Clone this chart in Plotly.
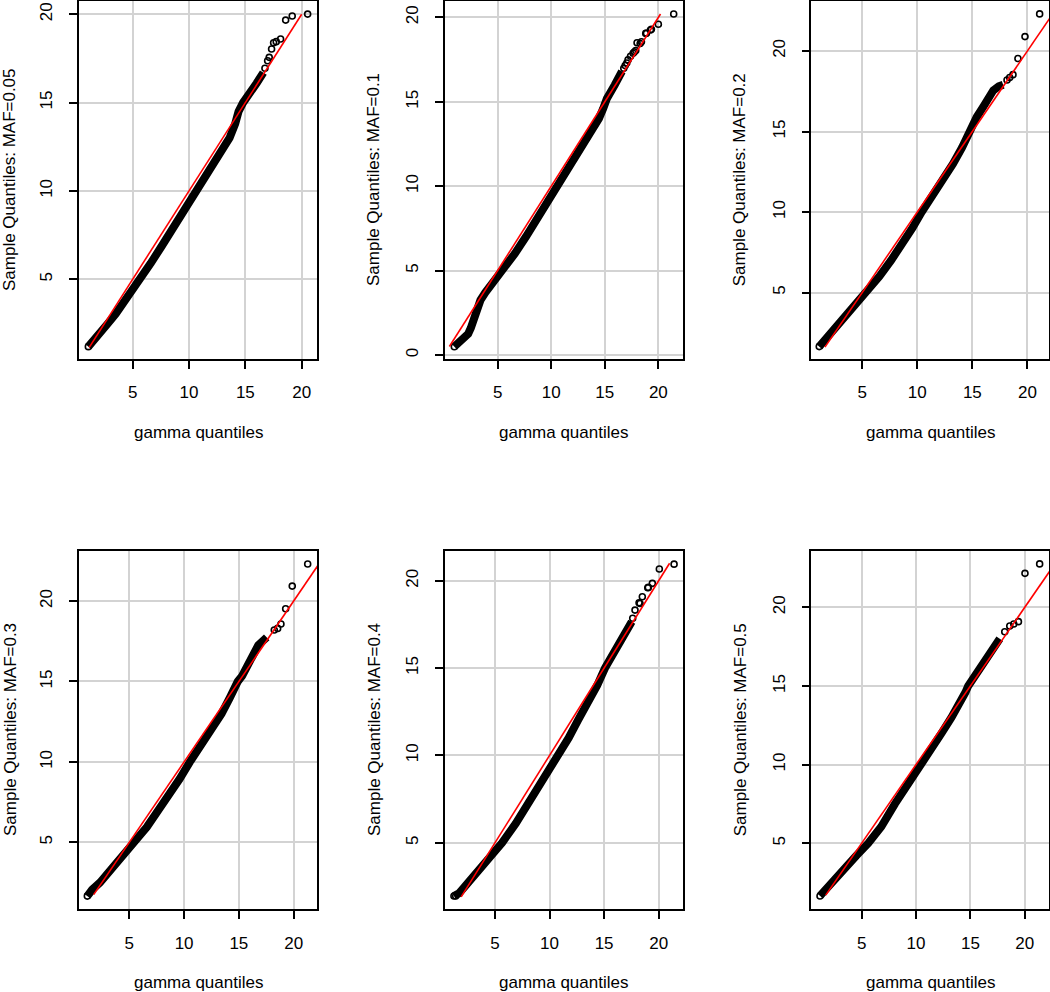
import plotly.graph_objects as go

# ---------------- data ----------------
titles = ["MAF=0.05", "MAF=0.1", "MAF=0.2", "MAF=0.3", "MAF=0.4", "MAF=0.5"]
tick_vals = [0, 5, 10, 15, 20]

# MAF = 0.05
band1_x = [1.07, 1.6, 2.1, 2.8, 3.5, 4.3, 5.0, 5.65, 6.6, 7.6, 8.6, 9.7, 10.8, 11.8, 12.8, 13.6, 14.1, 14.4, 14.8, 15.4, 16.0, 16.6]
band1_y = [1.19, 1.55, 1.95, 2.5, 3.05, 3.75, 4.4, 5.0, 5.9, 6.9, 7.9, 8.95, 10.0, 11.0, 12.05, 13.0, 13.8, 14.5, 15.0, 15.5, 16.1, 16.7]
pts1_x = [1.07, 16.74, 16.98, 17.12, 17.33, 17.51, 17.74, 18.13, 18.58, 19.16, 20.53]
pts1_y = [1.19, 16.94, 17.37, 17.56, 18.03, 18.39, 18.45, 18.6, 19.67, 19.9, 20.01]
ref1 = [1.15, 20.0]

# MAF = 0.1
band2_x = [0.96, 1.35, 1.8, 2.25, 2.5, 2.7, 2.98, 3.4, 3.85, 4.3, 5.45, 6.6, 7.64, 8.63, 9.63, 10.65, 11.68, 12.67, 13.6, 14.45, 14.85, 15.2, 15.93, 16.6]
band2_y = [0.49, 0.7, 0.95, 1.25, 1.6, 2.05, 2.65, 3.25, 3.7, 4.05, 5.0, 6.0, 7.0, 8.0, 9.0, 10.0, 11.0, 12.0, 13.0, 14.0, 14.6, 15.2, 16.0, 16.8]
pts2_x = [0.96, 16.77, 16.9, 17.05, 17.17, 17.4, 17.64, 17.75, 17.89, 18.01, 18.3, 18.42, 18.82, 18.89, 19.26, 19.35, 20.0, 21.43]
pts2_y = [0.49, 16.98, 17.15, 17.3, 17.48, 17.7, 17.87, 17.95, 18.03, 18.5, 18.45, 18.56, 19.05, 19.06, 19.25, 19.29, 19.59, 20.2]
ref2 = [0.5, 20.2]

# MAF = 0.2
band3_x = [1.1, 1.6, 2.2, 3.0, 3.6, 4.5, 5.5, 6.55, 7.62, 8.65, 9.55, 10.4, 11.4, 12.4, 13.25, 14.06, 14.45, 14.65, 14.95, 15.4, 16.0, 16.45, 16.9, 17.4, 17.8]
band3_y = [1.65, 2.05, 2.5, 3.05, 3.5, 4.25, 5.0, 6.0, 7.0, 8.0, 9.0, 10.0, 11.0, 12.0, 13.0, 14.0, 14.6, 15.0, 15.3, 15.9, 16.55, 17.15, 17.55, 17.8, 17.9]
pts3_x = [1.1, 18.15, 18.39, 18.69, 19.14, 19.78, 21.11]
pts3_y = [1.65, 18.2, 18.35, 18.53, 19.53, 20.89, 22.3]
ref3 = [1.62, 22.3]

# MAF = 0.3
band4_x = [1.17, 1.6, 2.33, 3.0, 3.54, 4.4, 5.52, 6.6, 7.6, 8.6, 9.6, 10.53, 11.5, 12.42, 13.42, 14.18, 14.5, 14.9, 15.3, 15.7, 16.3, 16.77, 17.54]
band4_y = [1.66, 2.05, 2.5, 3.05, 3.5, 4.2, 5.0, 5.95, 6.95, 7.9, 8.95, 10.0, 11.0, 12.0, 13.0, 14.0, 14.55, 15.0, 15.35, 15.9, 16.75, 17.26, 17.74]
pts4_x = [1.17, 18.23, 18.54, 18.84, 19.27, 19.87, 21.28]
pts4_y = [1.66, 18.2, 18.3, 18.57, 19.52, 20.93, 22.3]
ref4 = [1.75, 22.3]

# MAF = 0.4
band5_x = [1.24, 1.7, 2.25, 2.9, 3.63, 4.6, 5.65, 6.9, 8.3, 9.6, 10.8, 11.75, 12.6, 13.5, 14.36, 15.08, 16.06, 16.9, 17.53]
band5_y = [1.95, 2.1, 2.5, 2.95, 3.5, 4.25, 5.0, 6.1, 7.5, 8.75, 10.0, 11.0, 12.0, 13.0, 14.0, 15.0, 16.0, 16.85, 17.65]
pts5_x = [1.24, 1.4, 17.62, 17.83, 18.2, 18.29, 18.5, 19.0, 19.05, 19.42, 20.06, 21.41]
pts5_y = [1.95, 1.95, 17.85, 18.32, 18.74, 18.7, 19.08, 19.6, 19.62, 19.85, 20.67, 20.95]
ref5 = [1.9, 21.0]

# MAF = 0.5
band6_x = [1.17, 1.6, 2.25, 2.9, 3.62, 4.5, 5.61, 6.8, 8.06, 9.3, 10.55, 11.5, 12.35, 13.26, 14.18, 14.55, 14.8, 15.3, 15.71, 16.2, 16.72, 17.2, 17.7]
band6_y = [1.65, 2.0, 2.5, 3.0, 3.5, 4.2, 5.0, 6.05, 7.5, 8.75, 10.0, 11.0, 12.0, 13.0, 14.0, 14.6, 15.0, 15.5, 16.0, 16.5, 17.0, 17.5, 18.0]
pts6_x = [1.17, 18.16, 18.62, 18.99, 19.42, 20.02, 21.37]
pts6_y = [1.65, 18.45, 18.81, 18.94, 19.09, 22.16, 22.76]
ref6 = [1.7, 22.8]

# axis ranges per panel
x_ranges = [[0.24, 21.36], [0.09, 22.27], [0.38, 21.96], [0.41, 22.13], [0.42, 22.2], [0.37, 22.23]]
y_ranges = [[0.49, 20.75], [-0.24, 20.97], [0.88, 23.1], [0.84, 23.13], [1.19, 21.72], [0.8, 23.6]]

bands = [(band1_x, band1_y), (band2_x, band2_y), (band3_x, band3_y),
         (band4_x, band4_y), (band5_x, band5_y), (band6_x, band6_y)]
points = [(pts1_x, pts1_y), (pts2_x, pts2_y), (pts3_x, pts3_y),
          (pts4_x, pts4_y), (pts5_x, pts5_y), (pts6_x, pts6_y)]
refs = [ref1, ref2, ref3, ref4, ref5, ref6]

# ---------------- layout geometry (pixels of a 1050x992 page) ----------------
W, H = 1050, 992
col_px = [(79, 317), (445, 682.7), (811.3, 1049)]
row_px = [(1, 359), (550.7, 909.3)]

FONT = "Liberation Sans, Arial, Helvetica, sans-serif"
fig = go.Figure()
layout = dict(
    width=W, height=H, margin=dict(l=0, r=0, t=0, b=0),
    paper_bgcolor="white", plot_bgcolor="white", showlegend=False,
    font=dict(family=FONT, size=17, color="black"),
)
annotations = []

for i in range(6):
    r, c = divmod(i, 3)
    n = "" if i == 0 else str(i + 1)
    xa, ya = "x" + n, "y" + n
    x0, x1 = col_px[c]
    y0, y1 = row_px[r]
    axis_common = dict(
        tickvals=tick_vals, ticks="outside", ticklen=8, tickwidth=1.5, tickcolor="black",
        showline=True, mirror=True, linecolor="black", linewidth=1.6,
        showgrid=True, gridcolor="#d3d3d3", gridwidth=1.6, zeroline=False,
        tickfont=dict(family=FONT, size=17, color="black"),
        fixedrange=True,
    )
    layout["xaxis" + n] = dict(axis_common, domain=[x0 / W, x1 / W], range=x_ranges[i],
                               anchor=ya, ticklabelstandoff=9)
    layout["yaxis" + n] = dict(axis_common, domain=[1 - y1 / H, 1 - y0 / H], range=y_ranges[i],
                               anchor=xa, tickangle=-90, ticklabelstandoff=10)

    bx, by = bands[i]
    fig.add_trace(go.Scatter(x=bx, y=by, xaxis=xa, yaxis=ya, mode="lines",
                             line=dict(color="black", width=8), hoverinfo="skip"))
    px_, py_ = points[i]
    fig.add_trace(go.Scatter(x=px_, y=py_, xaxis=xa, yaxis=ya, mode="markers",
                             marker=dict(symbol="circle-open", size=6, color="black",
                                         line=dict(width=1.6, color="black"))))
    fig.add_trace(go.Scatter(x=refs[i], y=refs[i], xaxis=xa, yaxis=ya, mode="lines",
                             line=dict(color="#ff0000", width=1.6)))

    # axis titles
    annotations.append(dict(text="gamma quantiles", xref="paper", yref="paper",
                            x=(x0 + x1) / 2 / W, y=1 - (y1 + 73) / H,
                            xanchor="center", yanchor="middle", showarrow=False,
                            font=dict(family=FONT, size=17, color="black")))
    annotations.append(dict(text="Sample Quantiles: " + titles[i], xref="paper", yref="paper",
                            x=max(x0 - 71, 10) / W, y=1 - (y0 + y1) / 2 / H, textangle=-90,
                            xanchor="center", yanchor="middle", showarrow=False,
                            font=dict(family=FONT, size=17, color="black")))

layout["annotations"] = annotations
fig.update_layout(**layout)
fig.write_html("out.html", config={"displayModeBar": False},
               post_script="document.body.style.margin='0';document.body.style.padding='0';")
